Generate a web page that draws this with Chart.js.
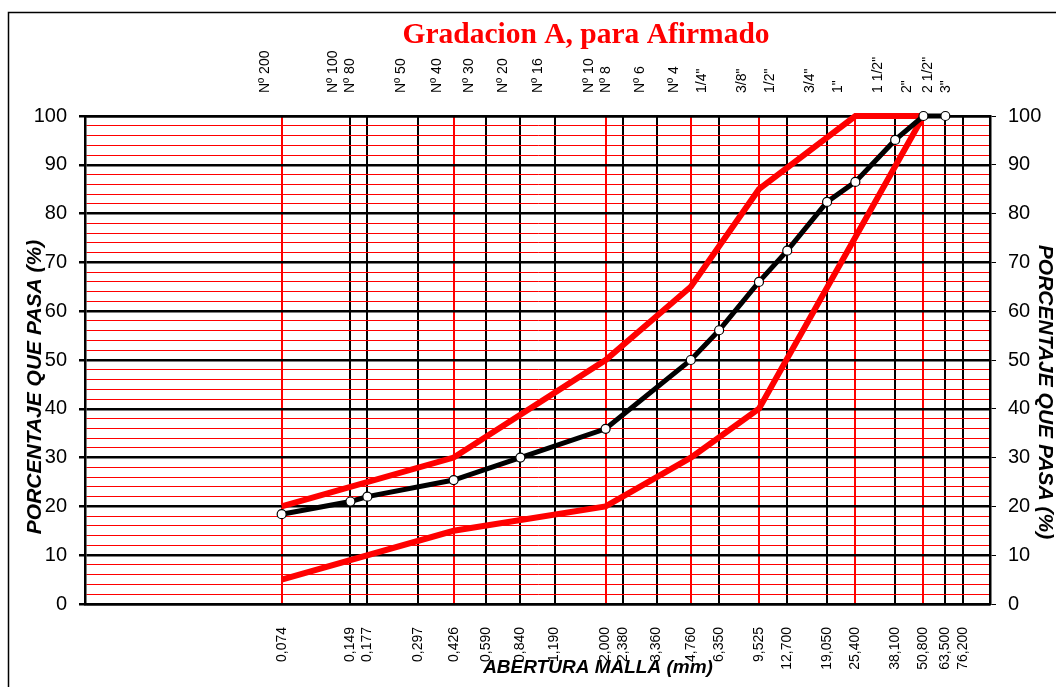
<!DOCTYPE html>
<html>
<head>
<meta charset="utf-8">
<title>Gradacion A, para Afirmado</title>
<script src="https://cdn.jsdelivr.net/npm/chart.js@4.4.0/dist/chart.umd.min.js"></script>
<style>
    body { margin: 0; background: #ffffff; }
    #contenedor { width: 1056px; height: 687px; }
</style>
</head>
<body>
<div id="contenedor"><canvas id="graficoGranulometria" width="1056" height="687"></canvas></div>
<script>
// Tamices (abertura en mm) y sus etiquetas
const aberturas = [0.074, 0.149, 0.177, 0.297, 0.426, 0.590, 0.840, 1.190, 2.000, 2.380, 3.360,
    4.760, 6.350, 9.525, 12.700, 19.050, 25.400, 38.100, 50.800, 63.500, 76.200];
const etiquetasMm = ['0,074', '0,149', '0,177', '0,297', '0,426', '0,590', '0,840', '1,190', '2,000', '2,380', '3,360',
    '4,760', '6,350', '9,525', '12,700', '19,050', '25,400', '38,100', '50,800', '63,500', '76,200'];
const etiquetasTamiz = ['Nº 200', 'Nº 100', 'Nº 80', 'Nº 50', 'Nº 40', 'Nº 30', 'Nº 20', 'Nº 16', 'Nº 10', 'Nº 8', 'Nº 6',
    'Nº 4', '1/4"', '3/8"', '1/2"', '3/4"', '1"', '1 1/2"', '2"', '2 1/2"', '3"'];
// tamices que van con linea roja
const tamicesRojos = [0.074, 0.426, 2.000, 4.760, 9.525, 25.400, 50.800];

// Curva de la muestra
const muestraAbertura = [0.074, 0.149, 0.177, 0.426, 0.840, 2.000, 4.760, 6.350, 9.525, 12.700, 19.050, 25.400, 38.100, 50.800, 63.500];
const muestraPasa = [18.4, 21.0, 22.0, 25.4, 30.0, 35.9, 50.0, 56.1, 66.0, 72.4, 82.4, 86.5, 95.1, 100, 100];

// Limites de la gradacion A
const limSupAbertura = [0.074, 0.426, 2.000, 4.760, 9.525, 25.400, 50.800];
const limSupPasa = [20, 30, 50, 65, 85, 100, 100];
const limInfAbertura = [0.074, 0.426, 2.000, 4.760, 9.525, 50.800];
const limInfPasa = [5, 15, 20, 30, 40, 100];

const ejeYMin = 0;
const ejeYMax = 100;
const ejeXMin = 0.01;
const ejeXMax = 100;

function puntos(xs, ys) {
    var datos = [];
    for (var i = 0; i < xs.length; i++) {
        datos.push({ x: xs[i], y: ys[i] });
    }
    return datos;
}

function esRojo(valor) {
    for (var i = 0; i < tamicesRojos.length; i++) {
        if (Math.abs(tamicesRojos[i] - valor) < 0.0005) return true;
    }
    return false;
}

function ticksTamices(scale) {
    scale.ticks = aberturas.map(function (v) { return { value: v }; });
}

function esMayor(c) {
    return Math.round(c.tick.value) % 10 === 0;
}

const fuente = "'Liberation Sans', Arial, sans-serif";

// titulos y marco (no son parte de los ejes de Chart.js)
const textosExtra = {
    id: 'textosExtra',
    afterDraw: function (chart) {
        const ctx = chart.ctx;
        ctx.save();
        ctx.strokeStyle = '#000';
        ctx.lineWidth = 1.5;
        ctx.strokeRect(8.5, 12.5, 1200, 800);

        ctx.fillStyle = '#ff0000';
        ctx.font = "bold 29.5px 'Liberation Serif', 'Times New Roman', serif";
        ctx.textAlign = 'center';
        ctx.textBaseline = 'middle';
        ctx.fillText('Gradacion A, para Afirmado', 586, 35);

        ctx.fillStyle = '#000';
        ctx.font = 'italic bold 19px ' + fuente;
        ctx.fillText('ABERTURA MALLA (mm)', 598, 668);

        ctx.font = 'italic bold 21px ' + fuente;
        ctx.save();
        ctx.translate(35, 387);
        ctx.rotate(-Math.PI / 2);
        ctx.fillText('PORCENTAJE QUE PASA (%)', 0, 0);
        ctx.restore();

        ctx.save();
        ctx.translate(1045, 392);
        ctx.rotate(Math.PI / 2);
        ctx.fillText('PORCENTAJE QUE PASA (%)', 0, 0);
        ctx.restore();
        ctx.restore();
    }
};

Chart.defaults.color = '#000';
Chart.defaults.font.family = fuente;

const ctx = document.getElementById('graficoGranulometria').getContext('2d');
const grafico = new Chart(ctx, {
    type: 'line',
    data: {
        datasets: [{
            label: 'Muestra',
            data: puntos(muestraAbertura, muestraPasa),
            borderColor: '#000',
            borderWidth: 5,
            pointRadius: 4.5,
            pointBackgroundColor: '#fff',
            pointBorderColor: '#000',
            pointBorderWidth: 1.2,
            tension: 0,
            clip: false
        }, {
            label: 'Limite superior',
            data: puntos(limSupAbertura, limSupPasa),
            borderColor: '#ff0000',
            borderWidth: 6,
            pointRadius: 0,
            tension: 0,
            clip: false
        }, {
            label: 'Limite inferior',
            data: puntos(limInfAbertura, limInfPasa),
            borderColor: '#ff0000',
            borderWidth: 6,
            pointRadius: 0,
            tension: 0,
            clip: false
        }]
    },
    options: {
        responsive: false,
        animation: false,
        devicePixelRatio: 1,
        layout: { padding: 0 },
        plugins: {
            legend: { display: false },
            tooltip: { enabled: false }
        },
        scales: {
            x: {
                type: 'logarithmic',
                position: 'bottom',
                min: ejeXMin,
                max: ejeXMax,
                afterBuildTicks: ticksTamices,
                afterFit: function (scale) { scale.height = 83; },
                grid: {
                    drawTicks: false,
                    color: function (c) { return c.tick && esRojo(c.tick.value) ? '#ff0000' : '#000'; },
                    lineWidth: 2
                },
                border: { color: '#000', width: 2.5 },
                ticks: {
                    autoSkip: false,
                    minRotation: 90,
                    maxRotation: 90,
                    padding: 23,
                    font: { size: 14 },
                    callback: function (valor, indice) { return etiquetasMm[indice]; }
                }
            },
            x2: {
                type: 'logarithmic',
                position: 'top',
                min: ejeXMin,
                max: ejeXMax,
                afterBuildTicks: ticksTamices,
                afterFit: function (scale) { scale.height = 116; },
                grid: { drawOnChartArea: false, drawTicks: false },
                border: { color: '#000', width: 2.5 },
                ticks: {
                    autoSkip: false,
                    minRotation: 90,
                    maxRotation: 90,
                    padding: 23,
                    font: { size: 14 },
                    callback: function (valor, indice) { return etiquetasTamiz[indice]; }
                }
            },
            y: {
                type: 'linear',
                position: 'left',
                min: ejeYMin,
                max: ejeYMax,
                afterFit: function (scale) { scale.width = 85; },
                grid: {
                    color: function (c) { return esMayor(c) ? '#000' : '#ff0000'; },
                    lineWidth: function (c) { return esMayor(c) ? 2.5 : 1; },
                    tickColor: function (c) { return esMayor(c) ? '#000' : 'rgba(0,0,0,0)'; },
                    tickLength: 6
                },
                border: { color: '#000', width: 2.5 },
                ticks: {
                    stepSize: 2,
                    autoSkip: false,
                    padding: 12,
                    font: { size: 20 },
                    callback: function (valor) { return Math.round(valor) % 10 === 0 ? Math.round(valor) : ''; }
                }
            },
            y2: {
                type: 'linear',
                position: 'right',
                min: ejeYMin,
                max: ejeYMax,
                afterFit: function (scale) { scale.width = 66; },
                grid: {
                    drawOnChartArea: false,
                    tickColor: function (c) { return esMayor(c) ? '#000' : 'rgba(0,0,0,0)'; },
                    tickLength: 6
                },
                border: { color: '#000', width: 2.5 },
                ticks: {
                    stepSize: 2,
                    autoSkip: false,
                    padding: 12,
                    font: { size: 20 },
                    callback: function (valor) { return Math.round(valor) % 10 === 0 ? Math.round(valor) : ''; }
                }
            }
        }
    },
    plugins: [textosExtra]
});
</script>
</body>
</html>
